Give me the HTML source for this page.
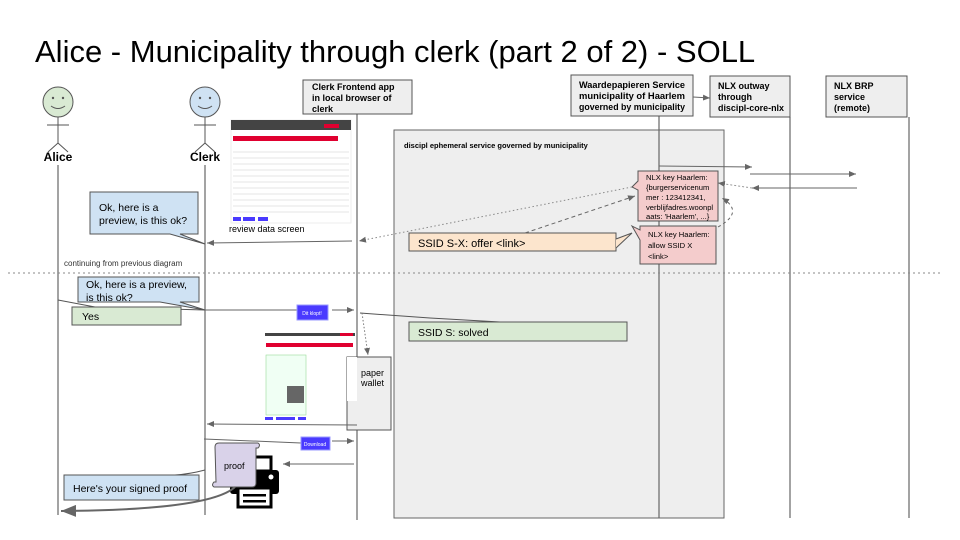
<!DOCTYPE html>
<html><head><meta charset="utf-8"><style>
body{margin:0;background:#fff}
svg{display:block;font-family:"Liberation Sans",Arial,sans-serif}
</style></head><body>
<svg width="960" height="540" viewBox="0 0 960 540" xmlns="http://www.w3.org/2000/svg">
<defs>
<marker id="a" markerWidth="8" markerHeight="8" refX="7" refY="4" orient="auto" markerUnits="userSpaceOnUse"><path d="M0,1 L7,4 L0,7 Z" fill="#666"/></marker>
<marker id="big" markerWidth="16" markerHeight="12" refX="15" refY="6" orient="auto" markerUnits="userSpaceOnUse"><path d="M0,0 L15,6 L0,12 Z" fill="#666"/></marker>
</defs>
<text x="35" y="62" font-size="31" fill="#000">Alice - Municipality through clerk (part 2 of 2) - SOLL</text>

<rect x="394" y="130" width="330" height="388" fill="#eeeeee" stroke="#666"/>
<text x="404" y="148" font-size="7.5" font-weight="bold">discipl ephemeral service governed by municipality</text>

<g stroke="#555" fill="none">
<circle cx="58" cy="102" r="15" fill="#d9ead3"/>
<line x1="58" y1="117" x2="58" y2="143"/><line x1="47" y1="125" x2="69" y2="125"/>
<line x1="58" y1="143" x2="48" y2="152"/><line x1="58" y1="143" x2="68" y2="152"/>
<circle cx="205" cy="102" r="15" fill="#cfe2f3"/>
<line x1="205" y1="117" x2="205" y2="143"/><line x1="194" y1="125" x2="216" y2="125"/>
<line x1="205" y1="143" x2="195" y2="152"/><line x1="205" y1="143" x2="215" y2="152"/>
</g>
<g fill="#555"><circle cx="53" cy="98" r="1.2"/><circle cx="63" cy="98" r="1.2"/><circle cx="200" cy="98" r="1.2"/><circle cx="210" cy="98" r="1.2"/></g>
<path d="M51,106 Q58,111 65,106" stroke="#555" fill="none"/><path d="M198,106 Q205,111 212,106" stroke="#555" fill="none"/>
<text x="58" y="161" font-size="12" font-weight="bold" text-anchor="middle">Alice</text>
<text x="205" y="161" font-size="12" font-weight="bold" text-anchor="middle">Clerk</text>

<g stroke="#666" stroke-width="1.2">
<line x1="58" y1="165" x2="58" y2="515"/>
<line x1="205" y1="165" x2="205" y2="515"/>
<line x1="357" y1="114" x2="357" y2="520"/>
<line x1="659" y1="116" x2="659" y2="518"/>
<line x1="790" y1="117" x2="790" y2="518"/>
<line x1="909" y1="117" x2="909" y2="518"/>
</g>

<g stroke="#555" fill="#eeeeee">
<rect x="303" y="80" width="109" height="34"/>
<rect x="571" y="75" width="122" height="41"/>
<rect x="710" y="76" width="80" height="41"/>
<rect x="826" y="76" width="81" height="41"/>
</g>
<g font-size="9" font-weight="bold">
<text x="312" y="90">Clerk Frontend app</text><text x="312" y="101">in local browser of</text><text x="312" y="112">clerk</text>
<text x="579" y="88" textLength="106" lengthAdjust="spacingAndGlyphs">Waardepapieren Service</text><text x="579" y="99" textLength="106" lengthAdjust="spacingAndGlyphs">municipality of Haarlem</text><text x="579" y="110" textLength="106" lengthAdjust="spacingAndGlyphs">governed by municipality</text>
<text x="718" y="89">NLX outway</text><text x="718" y="100">through</text><text x="718" y="111" textLength="66" lengthAdjust="spacingAndGlyphs">discipl-core-nlx</text>
<text x="834" y="89">NLX BRP</text><text x="834" y="100">service</text><text x="834" y="111">(remote)</text>
</g>
<line x1="693" y1="97" x2="710" y2="98" stroke="#666" marker-end="url(#a)"/>

<g stroke="#666" fill="none">
<line x1="659" y1="166" x2="752" y2="167" marker-end="url(#a)"/>
<line x1="750" y1="174" x2="856" y2="174" marker-end="url(#a)"/>
<line x1="857" y1="188" x2="752" y2="188" marker-end="url(#a)"/>
<line x1="752" y1="188" x2="718" y2="183" stroke-dasharray="2,2" marker-end="url(#a)" stroke="#999"/>
</g>

<path d="M638,171 H718 V221 H638 V190 L632,187 L638,181 Z" fill="#f4cccc" stroke="#555"/>
<g font-size="7.6"><text x="646" y="180">NLX key Haarlem:</text><text x="646" y="190">{burgerservicenum</text><text x="646" y="200">mer : 123412341,</text><text x="646" y="210">verblijfadres.woonpl</text><text x="646" y="219">aats: 'Haarlem', ...}</text></g>
<path d="M640,226 H716 V264 H640 V240 L632,226 L640,230 Z" fill="#f4cccc" stroke="#555"/>
<g font-size="7.6"><text x="648" y="237">NLX key Haarlem:</text><text x="648" y="248">allow SSID X</text><text x="648" y="259">&lt;link&gt;</text></g>
<path d="M718,227 Q745,212 722,198" fill="none" stroke="#666" stroke-dasharray="3,3" marker-end="url(#a)"/>

<path d="M409,233 H616 V251 H409 Z" fill="#fce5cd" stroke="#555"/>
<path d="M616,239 L632,233 L616,248" fill="#fce5cd" stroke="#555"/>
<text x="418" y="247" font-size="11">SSID S-X: offer &lt;link&gt;</text>
<line x1="525" y1="233" x2="635" y2="196" stroke="#666" stroke-dasharray="4,3" marker-end="url(#a)"/>
<line x1="632" y1="187" x2="359" y2="241" stroke="#888" stroke-dasharray="1.5,2.5" marker-end="url(#a)"/>

<rect x="231" y="120" width="120" height="103" fill="#fff" stroke="#eee"/>
<rect x="231" y="120" width="120" height="10" fill="#444"/>
<rect x="324" y="124" width="15" height="4" fill="#e00030"/>
<rect x="233" y="136" width="105" height="5" fill="#e00030"/>
<g stroke="#ddd" stroke-width="0.8">
<line x1="233" y1="152" x2="349" y2="152"/><line x1="233" y1="158" x2="349" y2="158"/><line x1="233" y1="164" x2="349" y2="164"/><line x1="233" y1="170" x2="349" y2="170"/><line x1="233" y1="176" x2="349" y2="176"/><line x1="233" y1="182" x2="349" y2="182"/><line x1="233" y1="188" x2="349" y2="188"/><line x1="233" y1="194" x2="349" y2="194"/><line x1="233" y1="200" x2="349" y2="200"/><line x1="233" y1="206" x2="349" y2="206"/><line x1="233" y1="212" x2="349" y2="212"/>
</g>
<rect x="233" y="217" width="8" height="4" fill="#4a3aff"/><rect x="243" y="217" width="12" height="4" fill="#4a3aff"/><rect x="258" y="217" width="10" height="4" fill="#4a3aff"/>
<text x="229" y="232" font-size="9">review data screen</text>

<path d="M90,192 H198 V234 H180 L205,244 L170,234 H90 Z" fill="#cfe2f3" stroke="#555"/>
<text x="99" y="211" font-size="10.5">Ok, here is a</text><text x="99" y="224" font-size="10.5">preview, is this ok?</text>
<line x1="352" y1="241" x2="207" y2="243" stroke="#666" marker-end="url(#a)"/>

<text x="64" y="266" font-size="8" fill="#333">continuing from previous diagram</text>
<line x1="8" y1="273" x2="940" y2="273" stroke="#888" stroke-dasharray="2,3"/>

<path d="M78,277 H199 V302 H180 L205,310 L160,302 H78 Z" fill="#cfe2f3" stroke="#555"/>
<text x="86" y="288" font-size="10.5">Ok, here is a preview,</text><text x="86" y="301" font-size="10.5">is this ok?</text>
<path d="M58,300 L95,307 L205,310" fill="none" stroke="#555"/>
<rect x="72" y="307" width="109" height="18" fill="#d9ead3" stroke="#555"/>
<text x="82" y="320" font-size="10.5">Yes</text>
<line x1="205" y1="310" x2="297" y2="310" stroke="#666"/>
<rect x="297" y="305" width="31" height="15" fill="#4a3aff" stroke="#99f"/>
<text x="312" y="315" font-size="5" fill="#fff" text-anchor="middle">Dit klopt!</text>
<line x1="332" y1="310" x2="354" y2="310" stroke="#666" marker-end="url(#a)"/>
<path d="M360,313 L430,318 L500,322" fill="none" stroke="#555"/>
<rect x="409" y="322" width="218" height="19" fill="#d9ead3" stroke="#555"/>
<text x="418" y="336" font-size="10.5">SSID S:  solved</text>
<line x1="362" y1="313" x2="368" y2="355" stroke="#777" stroke-dasharray="1.5,2" marker-end="url(#a)"/>

<rect x="265" y="333" width="90" height="88" fill="#fff"/>
<rect x="265" y="333" width="90" height="3" fill="#444"/><rect x="340" y="333" width="13" height="3" fill="#e00030"/>
<rect x="266" y="343" width="87" height="4" fill="#e00030"/>
<rect x="266" y="355" width="40" height="60" fill="#f0fff4" stroke="#9d9" stroke-width="0.6"/>
<rect x="287" y="386" width="17" height="17" fill="#666"/>
<rect x="265" y="417" width="8" height="3" fill="#4a3aff"/><rect x="276" y="417" width="19" height="3" fill="#4a3aff"/><rect x="298" y="417" width="8" height="3" fill="#4a3aff"/>
<rect x="347" y="357" width="44" height="73" fill="#eeeeee" stroke="#555"/>
<rect x="347" y="357" width="10" height="44" fill="#fff"/>
<text x="361" y="376" font-size="9">paper</text><text x="361" y="386" font-size="9">wallet</text>
<line x1="357" y1="425" x2="207" y2="424" stroke="#666" marker-end="url(#a)"/>

<line x1="204" y1="439" x2="301" y2="443" stroke="#666"/>
<rect x="301" y="437" width="29" height="13" fill="#4a3aff" stroke="#99f"/>
<text x="315" y="446" font-size="5" fill="#fff" text-anchor="middle">Download</text>
<line x1="332" y1="441" x2="354" y2="441" stroke="#666" marker-end="url(#a)"/>
<line x1="354" y1="464" x2="283" y2="464" stroke="#666" marker-end="url(#a)"/>

<g fill="#000">
<rect x="253" y="457" width="18" height="14" fill="#fff" stroke="#000" stroke-width="3"/>
<rect x="230" y="470" width="49" height="24" rx="3"/>
<circle cx="271" cy="477" r="2.5" fill="#fff"/>
<rect x="238" y="488" width="33" height="19" fill="#fff" stroke="#000" stroke-width="3"/>
<rect x="243" y="494" width="23" height="2.5"/><rect x="243" y="500" width="23" height="2.5"/>
</g>
<path d="M215,447 Q215,443 219,443 H258 Q261,445 258,448 H256 V483 Q256,487 252,487 H214 Q211,485 214,482 H216 Z" fill="#d9d2e9" stroke="#555"/>
<text x="224" y="469" font-size="9">proof</text>

<path d="M205,470 Q190,474 175,475" fill="none" stroke="#555"/>
<rect x="64" y="475" width="135" height="25" fill="#cfe2f3" stroke="#555"/>
<text x="73" y="492" font-size="10.5">Here's your signed proof</text>
<path d="M235,487 Q210,510 61,511" fill="none" stroke="#666" stroke-width="2" marker-end="url(#big)"/>
</svg>
</body></html>
